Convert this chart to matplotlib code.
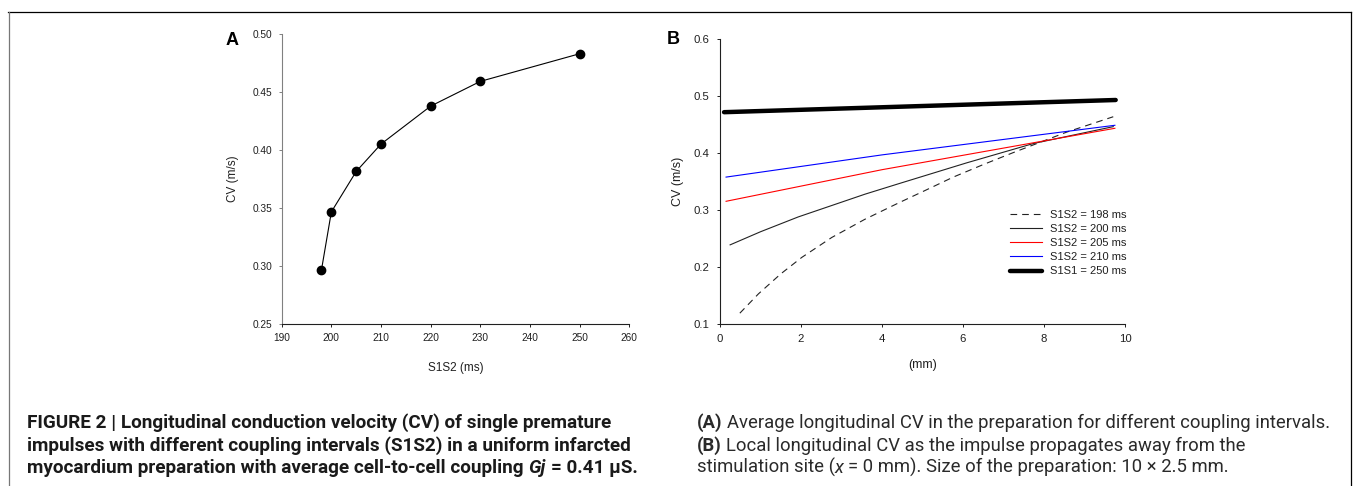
import matplotlib
matplotlib.use("Agg")
import matplotlib.pyplot as plt
from matplotlib import font_manager
from matplotlib.lines import Line2D
from matplotlib.transforms import IdentityTransform

# ---------------- data ----------------
# Panel A
s1s2 = [198, 200, 205, 210, 220, 230, 250]
cv_avg = [0.2966, 0.3468, 0.3816, 0.4052, 0.4379, 0.4592, 0.4830]

# Panel B
x198 = [0.49, 0.95, 1.50, 2.02, 2.76, 3.58, 4.42, 5.02, 5.76, 6.5, 7.24, 8.56, 9.71]
cv198 = [0.119, 0.153, 0.188, 0.217, 0.252, 0.284, 0.313, 0.333, 0.358, 0.380, 0.401, 0.437, 0.464]
x200 = [0.25, 1.0, 1.93, 3.58, 4.44, 6.09, 7.74, 9.71]
cv200 = [0.239, 0.262, 0.288, 0.328, 0.347, 0.383, 0.417, 0.4466]
x205 = [0.15, 4.0, 9.75]
cv205 = [0.3155, 0.371, 0.4437]
x210 = [0.15, 4.0, 9.75]
cv210 = [0.358, 0.397, 0.449]
x250 = [0.10, 9.77]
cv250 = [0.472, 0.4934]
labels_b = ["S1S2 = 198 ms", "S1S2 = 200 ms", "S1S2 = 205 ms", "S1S2 = 210 ms", "S1S1 = 250 ms"]

a_xticks = [190, 200, 210, 220, 230, 240, 250, 260]
a_yticks = [0.25, 0.30, 0.35, 0.40, 0.45, 0.50]
b_xticks = [0, 2, 4, 6, 8, 10]
b_yticks = [0.1, 0.2, 0.3, 0.4, 0.5, 0.6]

cap_left = [
    [("FIGURE 2 | Longitudinal conduction velocity (CV) of single premature", "bold", "normal")],
    [("impulses with different coupling intervals (S1S2) in a uniform infarcted", "bold", "normal")],
    [("myocardium preparation with average cell-to-cell coupling", "bold", "normal"),
     (" Gj", "bold", "italic"), (" = 0.41 \u03bcS.", "bold", "normal")],
]
cap_right = [
    [("(A)", "bold", "normal"),
     (" Average longitudinal CV in the preparation for different coupling intervals.", "normal", "normal")],
    [("(B)", "bold", "normal"),
     (" Local longitudinal CV as the impulse propagates away from the", "normal", "normal")],
    [("stimulation site (", "normal", "normal"), ("x", "normal", "italic"),
     (" = 0 mm). Size of the preparation: 10 \u00d7 2.5 mm.", "normal", "normal")],
]

# ---------------- figure ----------------
W, H = 1355, 486
plt.rcParams['font.family'] = ['Liberation Sans', 'DejaVu Sans']
fig = plt.figure(figsize=(W / 100, H / 100), dpi=100)


def fax(l, t, r, b):
    return [l / W, 1 - b / H, (r - l) / W, (b - t) / H]


# Panel A
axA = fig.add_axes(fax(281.7, 34.0, 629.3, 324.3))
axA.plot(s1s2, cv_avg, color='black', lw=0.8, marker='o', ms=6, mfc='black', mec='black')
axA.set_xlim(190, 260)
axA.set_ylim(0.25, 0.50)
axA.set_xticks(a_xticks)
axA.set_yticks(a_yticks)
axA.set_yticklabels([f"{v:.2f}" for v in a_yticks])
for s in ['top', 'right']:
    axA.spines[s].set_visible(False)
axA.spines['left'].set_color('#808080')
axA.spines['bottom'].set_color('#202020')
for s in ['left', 'bottom']:
    axA.spines[s].set_linewidth(0.8)
axA.tick_params(axis='both', direction='out', length=2.5, width=0.7, labelsize=7.3, pad=4, colors='#202020')
axA.tick_params(axis='y', color='#808080')
axA.set_xlabel("S1S2 (ms)", fontsize=8.5, va='center', color='#202020')
axA.xaxis.set_label_coords(0.5, -0.1495)
axA.set_ylabel("CV (m/s)", fontsize=8.5, va='center', color='#202020')
axA.yaxis.set_label_coords(-0.141, 0.5)

# Panel B
axB = fig.add_axes(fax(720.0, 39.3, 1125.0, 324.0))
axB.plot(x198, cv198, color='#222222', lw=0.8, ls=(0, (6, 4.5)), label=labels_b[0])
axB.plot(x200, cv200, color='#222222', lw=0.8, label=labels_b[1])
axB.plot(x205, cv205, color='#ff0000', lw=0.8, label=labels_b[2])
axB.plot(x210, cv210, color='#0000ff', lw=0.8, label=labels_b[3])
axB.plot(x250, cv250, color='black', lw=3.2, solid_capstyle='round', label=labels_b[4])
axB.set_xlim(0, 10)
axB.set_ylim(0.1, 0.6)
axB.set_xticks(b_xticks)
axB.set_yticks(b_yticks)
axB.set_yticklabels([f"{v:.1f}" for v in b_yticks])
for s in ['top', 'right']:
    axB.spines[s].set_visible(False)
for s in ['left', 'bottom']:
    axB.spines[s].set_color('#202020')
    axB.spines[s].set_linewidth(0.8)
axB.tick_params(axis='both', direction='out', length=2.5, width=0.7, labelsize=8.2, pad=5, colors='#202020')
axB.set_xlabel("(mm)", fontsize=9, va='center', color='#202020')
axB.xaxis.set_label_coords(0.5, -0.144)
axB.set_ylabel("CV (m/s)", fontsize=9, va='center', color='#202020')
axB.yaxis.set_label_coords(-0.103, 0.5)
leg = axB.legend(loc='upper left', bbox_to_anchor=(1010 / W, 1 - 210 / H), bbox_transform=fig.transFigure,
                 frameon=False, fontsize=8, handlelength=2.9, handletextpad=0.7, labelspacing=0.37,
                 borderpad=0, borderaxespad=0)
for t in leg.get_texts():
    t.set_color('#202020')

# panel letters
fig.text(226 / W, 1 - 45 / H, "A", fontsize=13, fontweight='bold', ha='left', va='baseline')
fig.text(666.5 / W, 1 - 44 / H, "B", fontsize=13, fontweight='bold', ha='left', va='baseline')

# border
fig.add_artist(Line2D([8 / W, 1351 / W], [1 - 12 / H, 1 - 12 / H], transform=fig.transFigure, color='black', lw=0.9))
fig.add_artist(Line2D([8.7 / W, 8.7 / W], [1 - 12 / H, 0], transform=fig.transFigure, color='#777777', lw=0.9))
fig.add_artist(Line2D([1351 / W, 1351 / W], [1 - 12 / H, 0], transform=fig.transFigure, color='black', lw=0.9))

# ---------------- caption ----------------
def pick_family():
    for fam in ['Liberation Sans Narrow', 'Roboto', 'Liberation Sans']:
        try:
            font_manager.findfont(font_manager.FontProperties(family=fam), fallback_to_default=False)
            return fam
        except Exception:
            pass
    return 'DejaVu Sans'


cap_fam = [pick_family(), 'DejaVu Sans']
renderer = fig.canvas.get_renderer()


def draw_line(x0, ybase, runs, size, color='#1a1a1a'):
    arts = []
    x = x0
    for txt, weight, style in runs:
        lead = len(txt) - len(txt.lstrip(' '))
        core = txt.strip(' ')
        t1 = fig.text(0, 0, "a a", fontsize=size, fontweight=weight, family=cap_fam, transform=IdentityTransform())
        t2 = fig.text(0, 0, "aa", fontsize=size, fontweight=weight, family=cap_fam, transform=IdentityTransform())
        sw = t1.get_window_extent(renderer).width - t2.get_window_extent(renderer).width
        t1.remove(); t2.remove()
        x += lead * sw
        t = fig.text(x, H - ybase, core, fontsize=size, fontweight=weight, fontstyle=style, family=cap_fam,
                     transform=IdentityTransform(), ha='left', va='baseline', color=color)
        x += t.get_window_extent(renderer).width
        arts.append(t)
    return arts, x - x0


def fit_size(x0, runs, target):
    arts, w = draw_line(x0, -100, runs, 10)
    for a in arts:
        a.remove()
    return 10 * target / w


size_l = fit_size(27.3, cap_left[0], 584)
size_r = fit_size(697, cap_right[0], 633)
baselines = [428.3, 450.6, 472.6]
for runs, yb in zip(cap_left, baselines):
    draw_line(27.3, yb, runs, size_l)
for runs, yb in zip(cap_right, baselines):
    draw_line(697, yb, runs, size_r, color='#2a2a2a')

fig.savefig("out.png", dpi=100)
